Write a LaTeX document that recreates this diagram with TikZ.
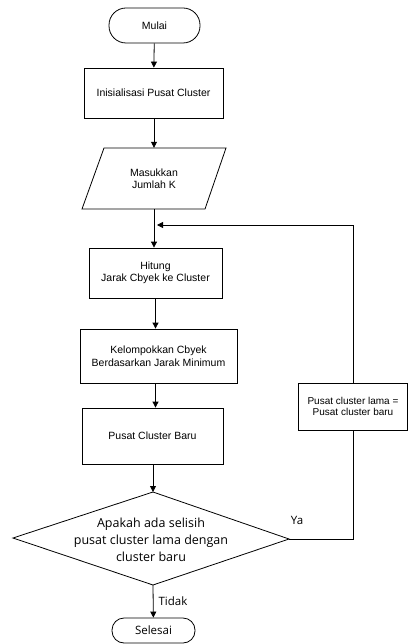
\documentclass[tikz,border=0pt]{standalone}
\usepackage{fontspec}
\setmainfont{Liberation Sans}
\newfontfamily\decfont{Open Sans}
\usetikzlibrary{shapes.geometric,arrows.meta}
\begin{document}
\begin{tikzpicture}[x=1pt,y=-1pt,
  every node/.style={font=\fontsize{10.5}{12.5}\selectfont, align=center, inner sep=1pt},
  boxstyle/.style={draw, line width=0.8pt, rectangle},
  termstyle/.style={draw, line width=0.8pt, rectangle, rounded corners=12pt},
  conn/.style={line width=0.8pt, -{Triangle[length=6pt,width=6pt]}},
  plain/.style={line width=0.8pt},
  declabel/.style={font=\decfont\fontsize{12.5}{17}\selectfont}
]
\useasboundingbox (0,0) rectangle (408,644);
\node[termstyle, minimum width=91pt, minimum height=35pt, rounded corners=17pt] (mulai) at (154.5,25.5) {Mulai};
\node[boxstyle, minimum width=139pt, minimum height=50pt] (init) at (153.5,93) {Inisialisasi Pusat Cluster};
% input parallelogram
\node[rectangle, minimum width=120pt, minimum height=61pt] (input) at (154,178.5) {Masukkan\\Jumlah K};
\coordinate (ptl) at (104,148);
\coordinate (ptr) at (226,148);
\coordinate (pbr) at (205,209);
\coordinate (pbl) at (82,209);
\draw[plain] (ptl) -- (ptr) -- (pbr) -- (pbl) -- cycle;
\node[boxstyle, minimum width=133pt, minimum height=50pt] (hitung) at (155.5,273) {Hitung\\Jarak Cbyek ke Cluster};
\node[boxstyle, minimum width=157pt, minimum height=54pt] (kel) at (158.5,356) {Kelompokkan Cbyek\\Berdasarkan Jarak Minimum};
\node[boxstyle, minimum width=141pt, minimum height=56pt] (baru) at (152.5,436) {Pusat Cluster Baru};
% decision
\coordinate (dtop) at (153,492);
\coordinate (dleft) at (13,538);
\coordinate (dbot) at (153,585);
\coordinate (dright) at (289,539);
\draw[plain] (dtop) -- (dright) -- (dbot) -- (dleft) -- cycle;
\node[declabel] (dec) at (151,540) {Apakah ada selisih\\pusat cluster lama dengan\\cluster baru};
\node[termstyle, minimum width=83pt, minimum height=25pt, font=\decfont\fontsize{11.5}{13}\selectfont] (selesai) at (153.5,630.5) {Selesai};
\node[boxstyle, minimum width=109pt, minimum height=47pt, font=\fontsize{10}{11.5}\selectfont] (pcl) at (353,406.5) {Pusat cluster lama =\\Pusat cluster baru};
\coordinate (join) at (154,225);
\coordinate (corner) at (353,225);
% connectors
\draw[conn] (mulai) -- (init);
\draw[conn] (init.south -| join) -- (input.north -| join);
\draw[conn] (input.south -| join) -- (hitung.north -| join);
\draw[conn] (hitung) -- (hitung.south |- kel.north);
\draw[conn] (kel.south -| hitung) -- (baru.north -| hitung);
\draw[conn] (baru.south -| dtop) -- (dtop);
\draw[conn] (dbot) -- (selesai) node[midway, right=4pt, font=\decfont\fontsize{11.5}{13}\selectfont] (tidak) {Tidak};
\draw[plain] (dright) -| (pcl.south);
\draw[conn, shorten >=3pt] (pcl.north) -- (corner) -- (join);
\node[font=\decfont\fontsize{11.5}{13}\selectfont] (ya) at (297,520) {Ya};
\end{tikzpicture}
\end{document}
